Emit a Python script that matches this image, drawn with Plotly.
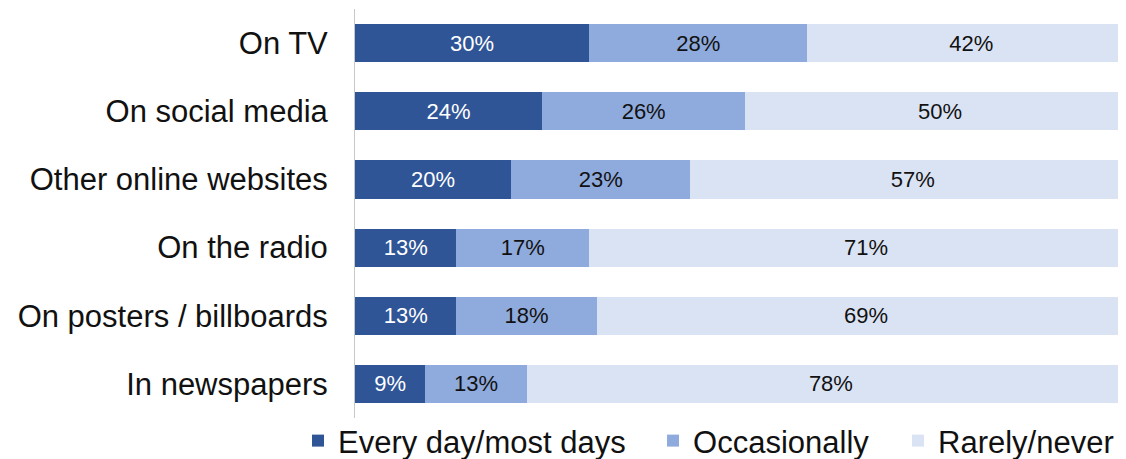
import plotly.graph_objects as go

categories = ["On TV", "On social media", "Other online websites", "On the radio",
              "On posters / billboards", "In newspapers"]
every_day = [30, 24, 20, 13, 13, 9]
occasionally = [28, 26, 23, 17, 18, 13]
rarely = [42, 50, 57, 71, 69, 78]

series = [
    ("Every day/most days", every_day, "#2F5597", "white", "legend"),
    ("Occasionally", occasionally, "#8FAADC", "#111111", "legend2"),
    ("Rarely/never", rarely, "#DAE3F3", "#111111", "legend3"),
]
legend_x = [-0.0747, 0.3906, 0.7117]

FONT = "Liberation Sans, Arial"

fig = go.Figure()
for name, vals, color, tcolor, lg in series:
    fig.add_trace(go.Bar(
        y=categories, x=vals, name=name, orientation="h",
        marker=dict(color=color, line=dict(width=0)),
        text=[f"{v}%" for v in vals], textposition="inside",
        insidetextanchor="middle",
        textfont=dict(color=tcolor, size=22, family=FONT),
        hoverinfo="skip", legend=lg,
    ))

legend_common = dict(orientation="h", xref="paper", yref="container",
                     xanchor="left", y=0.04, yanchor="middle",
                     font=dict(size=31, color="#111111", family=FONT),
                     itemwidth=30, bgcolor="rgba(0,0,0,0)", borderwidth=0)

fig.update_layout(
    barmode="stack",
    width=1110, height=451,
    margin=dict(l=347, r=0, t=1, b=41, autoexpand=False),
    paper_bgcolor="white", plot_bgcolor="white",
    bargap=0.44,
    font=dict(family=FONT, size=31, color="#111111"),
    showlegend=True,
    legend=dict(x=legend_x[0], **legend_common),
    legend2=dict(x=legend_x[1], **legend_common),
    legend3=dict(x=legend_x[2], **legend_common),
    uniformtext=dict(mode=False),
)
fig.update_xaxes(range=[0, 97.8], showgrid=False, showticklabels=False, zeroline=False,
                 showline=False)
fig.update_yaxes(autorange="reversed", showgrid=False, showline=True, linecolor="#C8C8C8",
                 linewidth=1, ticks="", ticklabelstandoff=20,
                 tickfont=dict(size=31, color="#111111"))

fig.write_html("out.html")
